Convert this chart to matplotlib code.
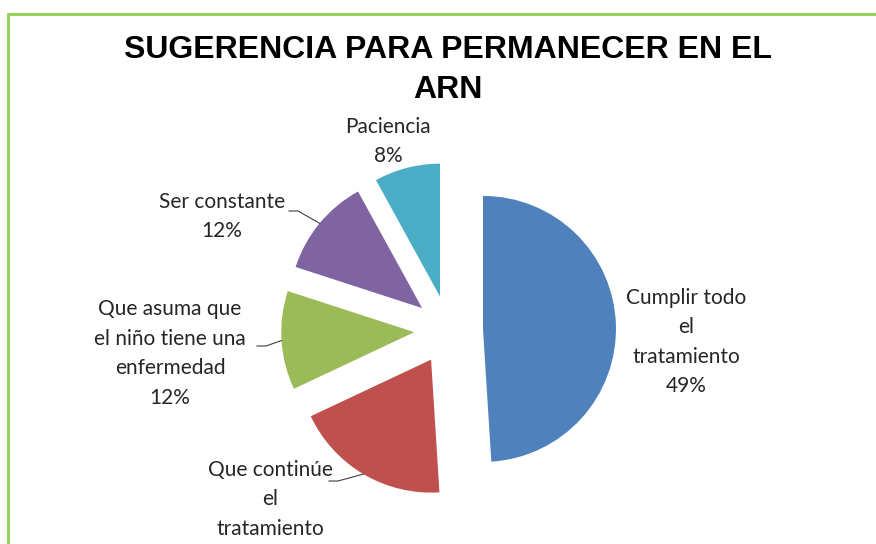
import matplotlib.pyplot as plt
from matplotlib.patches import Rectangle
import numpy as np

# datos
categorias = ['Cumplir todo\nel\ntratamiento', 'Que continúe\nel\ntratamiento',
              'Que asuma que\nel niño tiene una\nenfermedad', 'Ser constante', 'Paciencia']
porcentajes = [49, 19, 12, 12, 8]
colores = ['#4F81BD', '#C0504D', '#9BBB59', '#8064A2', '#4BACC6']

W, H = 876, 544
fig = plt.figure(figsize=(W / 100, H / 100), dpi=100)
ax = fig.add_axes([0, 0, 1, 1])

# borde verde del area del grafico
fig.patches.append(Rectangle((8 / W, -0.1), 1.2, (H - 14) / H + 0.1, transform=fig.transFigure,
                             fill=False, edgecolor='#92D050', lw=2))

cx, cy, r = 448.6, H - 330, 133
# explode va en unidades de datos (pixeles aqui)
wedges, _ = ax.pie(porcentajes, colors=colores, startangle=90, counterclock=False,
                   center=(cx, cy), radius=r, explode=[34.4] * 5,
                   wedgeprops=dict(linewidth=0))
ax.set_xlim(0, W)
ax.set_ylim(0, H)
ax.set_aspect('equal')
ax.axis('off')

ax.text(448, H - 70, 'SUGERENCIA PARA PERMANECER EN EL\nARN', ha='center', va='center',
        fontsize=23, fontweight='bold', family='Liberation Sans', linespacing=1.45)

# posiciones de etiquetas (centro del bloque) y fin de la linea guia
pos_etiquetas = [(686, 342), (270, 514), (170, 353.5), (222, 216.5), (388, 141.5)]
guias = [None, (329, 481), (257, 346), (289, 211), None]

for w, cat, p, pos, g in zip(wedges, categorias, porcentajes, pos_etiquetas, guias):
    ax.text(pos[0], H - pos[1], f'{cat}\n{p}%', ha='center', va='center', fontsize=15,
            family='Lato', color='#262626', linespacing=1.6)
    if g is not None:
        ang = np.deg2rad((w.theta1 + w.theta2) / 2)
        px = w.center[0] + w.r * np.cos(ang)
        py = w.center[1] + w.r * np.sin(ang)
        ax.plot([g[0], g[0] + 9, px], [H - g[1], H - g[1], py], color='#404040', lw=0.8)

fig.savefig('out.png', dpi=100)
